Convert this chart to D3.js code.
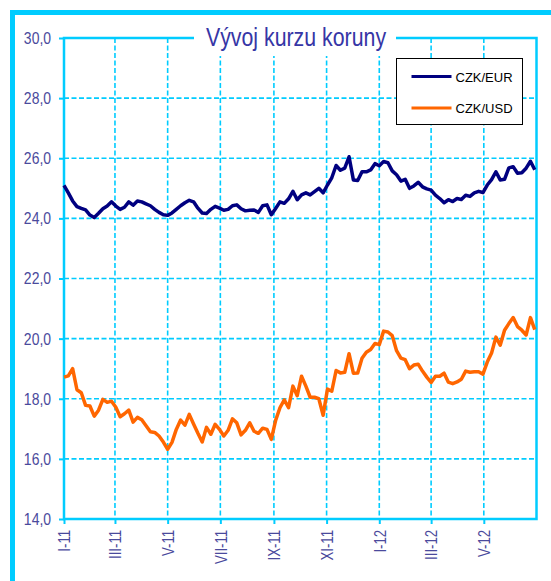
<!DOCTYPE html>
<html>
<head>
<meta charset="utf-8">
<script src="https://cdn.jsdelivr.net/npm/d3@7"></script>
<style>
  body { margin: 0; background: #fff; }
  svg { display: block; }
  .narrow { font-family: "Liberation Sans Narrow", "Arial Narrow", "Liberation Sans", Arial, sans-serif; }
</style>
</head>
<body>
<div id="chart"></div>
<script>
// data every 5 days from 1.1.2011
const startDate = new Date(2011, 0, 1);
const endDate = new Date(2012, 6, 1);
const dates = d3.timeDay.range(startDate, endDate, 5);

const eurValues = [
  25.10, 24.85, 24.58, 24.39, 24.33, 24.28, 24.11, 24.03, 24.17, 24.32,
  24.41, 24.55, 24.41, 24.30, 24.37, 24.55, 24.44, 24.58, 24.55, 24.48,
  24.42, 24.30, 24.20, 24.12, 24.10, 24.18, 24.30, 24.42, 24.52, 24.60,
  24.55, 24.34, 24.18, 24.16, 24.30, 24.40, 24.34, 24.27, 24.30, 24.42,
  24.45, 24.32, 24.25, 24.27, 24.28, 24.20, 24.42, 24.45, 24.12, 24.33,
  24.55, 24.50, 24.65, 24.90, 24.62, 24.78, 24.85, 24.78, 24.89, 25.00,
  24.85, 25.11, 25.35, 25.76, 25.60, 25.67, 26.05, 25.28, 25.26, 25.55,
  25.55, 25.61, 25.82, 25.75, 25.89, 25.85, 25.58, 25.45, 25.24, 25.30,
  25.00, 25.08, 25.20, 25.05, 24.98, 24.94, 24.77, 24.66, 24.52, 24.62,
  24.56, 24.66, 24.63, 24.77, 24.73, 24.85, 24.90, 24.86, 25.11, 25.29,
  25.55, 25.28, 25.30, 25.68, 25.72, 25.50, 25.52, 25.67, 25.90, 25.62
];

const usdValues = [
  18.72, 18.76, 19.00, 18.30, 18.20, 17.78, 17.76, 17.42, 17.62, 17.98,
  17.88, 17.92, 17.72, 17.40, 17.50, 17.62, 17.22, 17.38, 17.30, 17.10,
  16.90, 16.88, 16.76, 16.56, 16.32, 16.55, 16.98, 17.29, 17.12, 17.48,
  17.16, 16.85, 16.56, 17.05, 16.82, 17.15, 16.98, 16.76, 16.95, 17.33,
  17.20, 16.80, 16.95, 17.20, 16.92, 16.85, 17.02, 16.98, 16.65, 17.28,
  17.70, 17.96, 17.70, 18.42, 18.10, 18.75, 18.42, 18.05, 18.05, 18.00,
  17.45, 18.32, 18.25, 18.94, 18.86, 18.88, 19.50, 18.85, 18.86, 19.35,
  19.55, 19.64, 19.84, 19.80, 20.25, 20.22, 20.10, 19.60, 19.35, 19.30,
  19.00, 19.12, 19.15, 18.92, 18.72, 18.54, 18.75, 18.75, 18.85, 18.55,
  18.50, 18.56, 18.65, 18.92, 18.88, 18.90, 18.90, 18.82, 19.22, 19.52,
  20.05, 19.78, 20.28, 20.50, 20.70, 20.40, 20.28, 20.12, 20.70, 20.30
];

const seriesNames = ["CZK/EUR", "CZK/USD"];
const seriesColors = ["#000080", "#ff6600"];

const monthTicks = [
  new Date(2011, 0, 1), new Date(2011, 2, 1), new Date(2011, 4, 1),
  new Date(2011, 6, 1), new Date(2011, 8, 1), new Date(2011, 10, 1),
  new Date(2012, 0, 1), new Date(2012, 2, 1), new Date(2012, 4, 1)
];
const monthLabels = ["I-11", "III-11", "V-11", "VII-11", "IX-11", "XI-11", "I-12", "III-12", "V-12"];
const yTicks = [14, 16, 18, 20, 22, 24, 26, 28, 30];

const title = "Vývoj kurzu koruny";

const width = 551, height = 581;
const margin = { top: 38, right: 14, bottom: 62, left: 64 };
const cyan = "#00ccff";
const textColor = "#4a4a9c";

const svg = d3.select("#chart").append("svg")
  .attr("width", width)
  .attr("height", height);

// outer frame (runs off the right and bottom edge)
svg.append("rect")
  .attr("x", 12.5).attr("y", 12.5)
  .attr("width", 600).attr("height", 650)
  .attr("fill", "none")
  .attr("stroke", cyan)
  .attr("stroke-width", 5);

const x = d3.scaleTime()
  .domain([startDate, endDate])
  .range([margin.left, width - margin.right - 0.5]);

const y = d3.scaleLinear()
  .domain([14, 30])
  .range([height - margin.bottom, margin.top]);

// grid
const grid = svg.append("g");
grid.selectAll(".hgrid")
  .data(yTicks.slice(1, -1))
  .enter().append("line")
  .attr("x1", x.range()[0]).attr("x2", x.range()[1])
  .attr("y1", d => y(d)).attr("y2", d => y(d))
  .attr("stroke", cyan)
  .attr("stroke-width", 1.6)
  .attr("stroke-dasharray", "5,2.5");

grid.selectAll(".vgrid")
  .data(monthTicks.slice(1))
  .enter().append("line")
  .attr("x1", d => x(d)).attr("x2", d => x(d))
  .attr("y1", y.range()[1]).attr("y2", y.range()[0])
  .attr("stroke", cyan)
  .attr("stroke-width", 1.6)
  .attr("stroke-dasharray", "5,2.5");

// plot border
svg.append("rect")
  .attr("x", x.range()[0]).attr("y", y.range()[1])
  .attr("width", x.range()[1] - x.range()[0])
  .attr("height", y.range()[0] - y.range()[1])
  .attr("fill", "none")
  .attr("stroke", cyan)
  .attr("stroke-width", 2.5);

// y axis
const yAxis = svg.append("g")
  .attr("transform", `translate(${margin.left},0)`)
  .call(d3.axisLeft(y).tickValues(yTicks).tickSize(5).tickPadding(8)
    .tickFormat(d => d3.format(".1f")(d).replace(".", ",")));
yAxis.select(".domain").remove();
yAxis.selectAll(".tick line").attr("stroke", cyan).attr("stroke-width", 2);
yAxis.selectAll(".tick text")
  .attr("class", "narrow")
  .attr("fill", textColor)
  .style("font-size", "17px");

// x axis
const xAxis = svg.append("g")
  .attr("transform", `translate(0,${height - margin.bottom})`)
  .call(d3.axisBottom(x).tickValues(monthTicks).tickSize(5)
    .tickFormat((d, i) => monthLabels[i]));
xAxis.select(".domain").remove();
xAxis.selectAll(".tick line").attr("stroke", cyan).attr("stroke-width", 2);
xAxis.selectAll(".tick text")
  .attr("class", "narrow")
  .attr("fill", textColor)
  .style("font-size", "16px")
  .attr("text-anchor", "end")
  .attr("transform", "rotate(-90)")
  .attr("x", -11)
  .attr("y", 0)
  .attr("dy", "0.36em");

// title with white box over the grid
svg.append("rect")
  .attr("x", 194).attr("y", 18)
  .attr("width", 202).attr("height", 38)
  .attr("fill", "#fff");
svg.append("text")
  .attr("class", "narrow")
  .attr("x", 296).attr("y", 46)
  .attr("text-anchor", "middle")
  .attr("fill", "#3636a6")
  .style("font-size", "26px")
  .text(title);

// no narrow font installed: squeeze the regular one
svg.selectAll(".narrow").each(function () {
  const len = this.getComputedTextLength();
  d3.select(this)
    .attr("textLength", len * 0.82)
    .attr("lengthAdjust", "spacingAndGlyphs");
});

// lines
const line = d3.line()
  .x((d, i) => x(dates[i]))
  .y(d => y(d));

[eurValues, usdValues].forEach((vals, k) => {
  svg.append("path")
    .datum(vals)
    .attr("fill", "none")
    .attr("stroke", seriesColors[k])
    .attr("stroke-width", 3.5)
    .attr("stroke-linejoin", "round")
    .attr("d", line);
});

// legend
const legend = svg.append("g").attr("transform", "translate(396.5,58.5)");
legend.append("rect")
  .attr("width", 126).attr("height", 66)
  .attr("fill", "#fff")
  .attr("stroke", "#000")
  .attr("stroke-width", 1);
seriesNames.forEach((name, k) => {
  const ly = 18 + k * 31.5;
  legend.append("line")
    .attr("x1", 15).attr("x2", 55)
    .attr("y1", ly).attr("y2", ly)
    .attr("stroke", seriesColors[k])
    .attr("stroke-width", 3.2);
  legend.append("text")
    .attr("x", 59).attr("y", ly + 5)
    .attr("fill", "#000")
    .style("font-family", "Liberation Sans, Arial, sans-serif")
    .style("font-size", "13px")
    .text(name);
});
</script>
</body>
</html>
